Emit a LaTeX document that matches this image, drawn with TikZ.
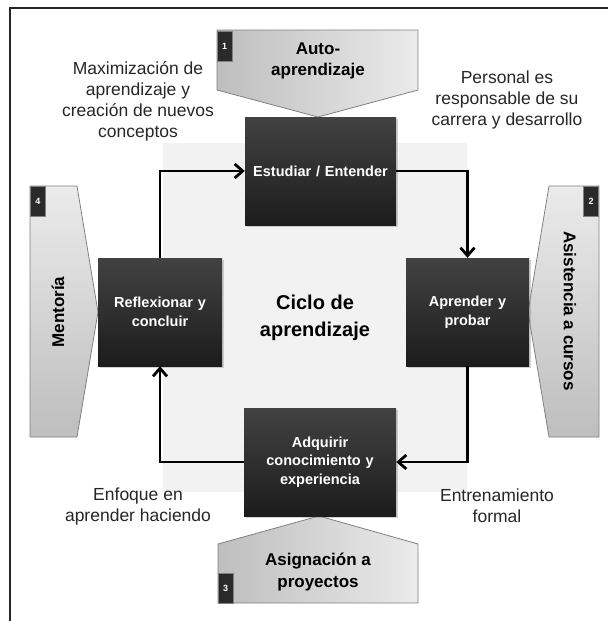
\documentclass[tikz,border=0pt]{standalone}
\usepackage{fontspec}
\setmainfont{Liberation Sans}
\usepackage{tikz}
\usetikzlibrary{arrows.meta,shadows}

\definecolor{boxtop}{HTML}{424242}
\definecolor{boxbottom}{HTML}{1C1C1C}
\definecolor{chevline}{HTML}{808080}
\definecolor{chevdark}{HTML}{BEBEBE}
\definecolor{chevlight}{HTML}{EBEBEB}
\definecolor{badgefill}{HTML}{2A2A2A}
\definecolor{notetext}{HTML}{262626}
\definecolor{cyclefill}{HTML}{F2F2F2}

\tikzset{
  stagebox/.style={top color=boxtop, bottom color=boxbottom, minimum height=108pt,
    inner sep=0pt, text width=#1, align=center, text=white,
    font=\fontsize{14.5}{18.5}\selectfont\bfseries,
    drop shadow={shadow xshift=2pt, shadow yshift=-2pt, opacity=.35}},
  cycarrow/.style={-{Straight Barb[length=8pt,width=14pt]}, line width=2.8pt},
  chev/.style={draw=chevline, line width=.8pt},
  numbadge/.style={fill=badgefill, draw=chevline, text=white, minimum width=15pt,
    minimum height=30pt, inner sep=0pt, font=\fontsize{9}{9}\selectfont\bfseries},
  note/.style={align=center, text=notetext, font=\fontsize{17.5}{21}\selectfont},
  chevlabel/.style={align=center, font=\fontsize{17}{21.5}\selectfont\bfseries}
}

\begin{document}
\begin{tikzpicture}[x=1pt, y=-1pt]
\useasboundingbox (0,0) rectangle (608,621);
\draw[line width=1.6pt, black!85] (608,8) -| (10,621);

\fill[cyclefill] (163,143) rectangle (467,492);

\shade[chev, left color=chevdark, right color=chevlight]
  (217,30) -- (418,30) -- (418,90) -- (318,117) -- (217,90) -- cycle;
\shade[chev, top color=chevlight, bottom color=chevdark]
  (549,186) -- (599,186) -- (599,437) -- (549,437) -- (528,312) -- cycle;
\shade[chev, left color=chevdark, right color=chevlight]
  (218,603) -- (418,603) -- (418,544) -- (319,516) -- (218,544) -- cycle;
\shade[chev, top color=chevlight, bottom color=chevdark]
  (30,186) -- (77,186) -- (98,312) -- (77,437) -- (30,437) -- cycle;

\node[numbadge] (n1) at (224.5,46) {1};
\node[numbadge] (n2) at (591,201) {2};
\node[numbadge] (n3) at (225.5,588.5) {3};
\node[numbadge] (n4) at (38,201) {4};

\node[chevlabel] (auto) at (318,61) {Auto-\\aprendizaje};
\node[chevlabel, rotate=-90] (asistencia) at (570,311) {Asistencia a cursos};
\node[chevlabel] (asignacion) at (318,572) {Asignación a\\proyectos};
\node[chevlabel, rotate=90] (mentoria) at (58,312) {Mentoría};

\node[stagebox=151pt] (estudiar) at (320.5,171) {Estudiar / Entender};
\node[stagebox=123pt] (aprender) at (467.5,312) {Aprender y\\probar};
\node[stagebox=152pt] (adquirir) at (320,462) {Adquirir\\conocimiento y\\experiencia};
\node[stagebox=124pt] (reflexionar) at (160,312) {Reflexionar y\\concluir};

\node[align=center, font=\fontsize{20}{27.5}\selectfont\bfseries] (ciclo) at (315,318)
  {Ciclo de\\aprendizaje};

\draw[cycarrow] (estudiar.east) -| (aprender.north);
\draw[cycarrow] (aprender.south) |- (adquirir.east);
\draw[cycarrow] (adquirir.west) -| (reflexionar.south);
\draw[cycarrow] (reflexionar.north) |- (estudiar.west);

\node[note] (maxim) at (138,101) {Maximización de\\aprendizaje y\\creación de nuevos\\conceptos};
\node[note] (personal) at (507,100) {Personal es\\responsable de su\\carrera y desarrollo};
\node[note] (enfoque) at (138,506) {Enfoque en\\aprender haciendo};
\node[note] (entrena) at (497,506) {Entrenamiento\\formal};
\end{tikzpicture}
\end{document}
